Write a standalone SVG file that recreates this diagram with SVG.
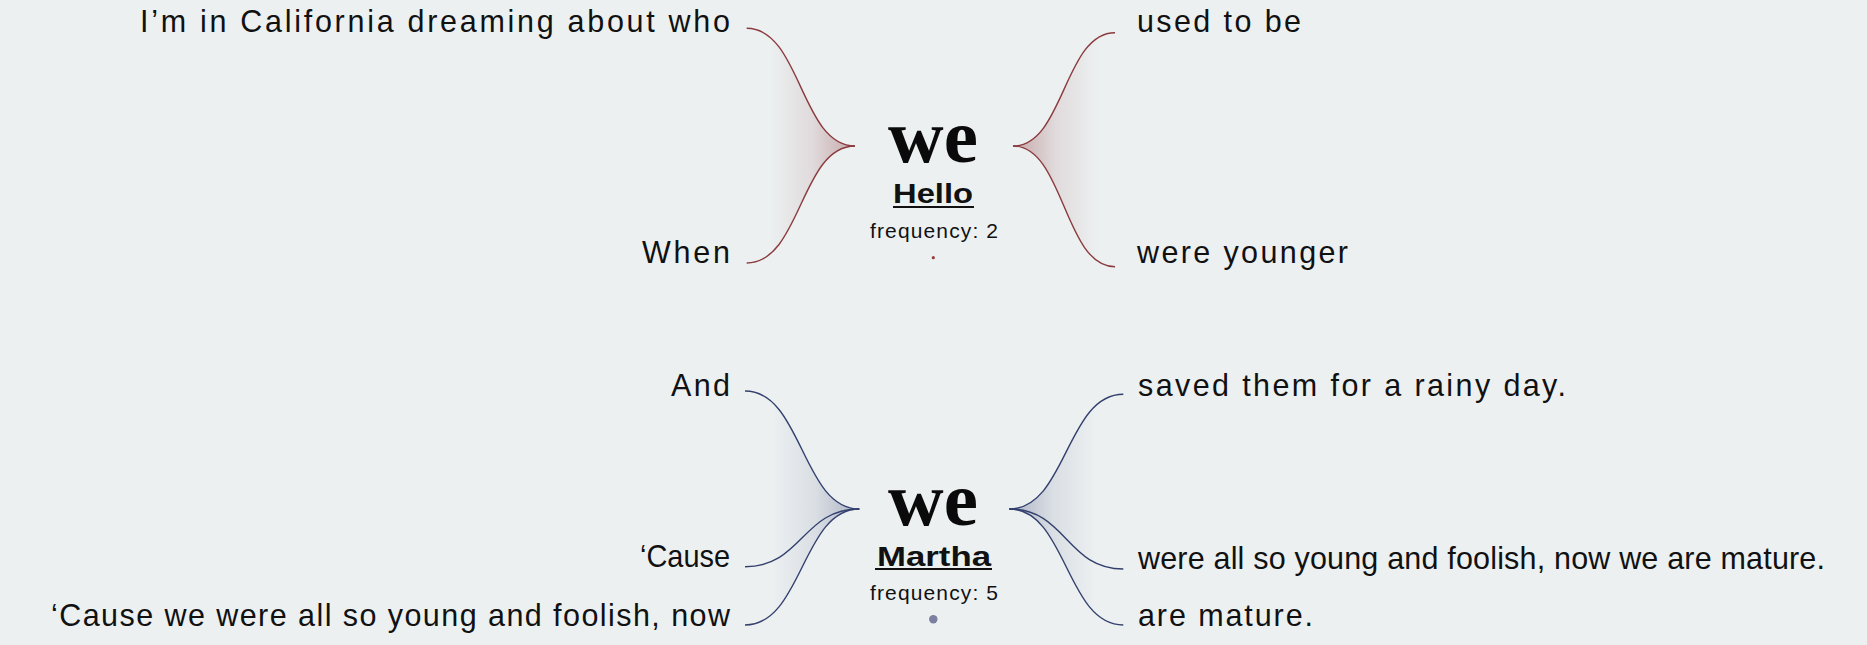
<svg xmlns="http://www.w3.org/2000/svg" width="1867" height="645" viewBox="0 0 1867 645">
<defs>
<style>
.bg{fill:#ecf0f1}
.t{font-family:"Liberation Sans",Arial,sans-serif;font-size:30.5px;fill:#111}
.we{font-family:"Liberation Serif","Times New Roman",serif;font-weight:bold;font-size:77px;fill:#0a0a0a;text-anchor:middle}
.name{font-family:"Liberation Sans",Arial,sans-serif;font-weight:bold;font-size:28px;fill:#111}
.freq{font-family:"Liberation Sans",Arial,sans-serif;font-size:21px;fill:#111}
.ul{stroke:#111;stroke-width:2}
.red{fill:none;stroke:#8b3a3e;stroke-width:1.4}
.blue{fill:none;stroke:#34406e;stroke-width:1.4}
</style>
<linearGradient id="gRL" gradientUnits="userSpaceOnUse" x1="855" y1="0" x2="770" y2="0"><stop offset="0" stop-color="#8b3a3e" stop-opacity="0.4"/><stop offset="0.5" stop-color="#8b3a3e" stop-opacity="0.12"/><stop offset="1" stop-color="#8b3a3e" stop-opacity="0"/></linearGradient>
<linearGradient id="gRR" gradientUnits="userSpaceOnUse" x1="1013" y1="0" x2="1098" y2="0"><stop offset="0" stop-color="#8b3a3e" stop-opacity="0.4"/><stop offset="0.5" stop-color="#8b3a3e" stop-opacity="0.12"/><stop offset="1" stop-color="#8b3a3e" stop-opacity="0"/></linearGradient>
<linearGradient id="gBL" gradientUnits="userSpaceOnUse" x1="859" y1="0" x2="772" y2="0"><stop offset="0" stop-color="#34406e" stop-opacity="0.35"/><stop offset="0.5" stop-color="#34406e" stop-opacity="0.1"/><stop offset="1" stop-color="#34406e" stop-opacity="0"/></linearGradient>
<linearGradient id="gBR" gradientUnits="userSpaceOnUse" x1="1009" y1="0" x2="1096" y2="0"><stop offset="0" stop-color="#34406e" stop-opacity="0.35"/><stop offset="0.5" stop-color="#34406e" stop-opacity="0.1"/><stop offset="1" stop-color="#34406e" stop-opacity="0"/></linearGradient>
</defs>
<rect class="bg" x="0" y="0" width="1867" height="645"/>

<g id="connectors">
<path fill="url(#gRL)" d="M746.7 28.3C800.8 28.3 800.8 146 855 146C800.8 146 800.8 263 746.7 263Z"/>
<path fill="url(#gRR)" d="M1115 32.7C1064 32.7 1064 146 1013 146C1064 146 1064 266.7 1115 266.7Z"/>
<path fill="url(#gBL)" d="M745 391C802.2 391 802.2 509 859.3 509C802.2 509 802.2 625 745 625Z"/>
<path fill="url(#gBR)" d="M1123.3 394.3C1066.3 394.3 1066.3 509 1009.3 509C1066.3 509 1066.3 625 1123.3 625Z"/>
<path class="red" d="M746.7 28.3C800.8 28.3 800.8 146 855 146"/>
<path class="red" d="M746.7 263C800.8 263 800.8 146 855 146"/>
<path class="red" d="M1115 32.7C1064 32.7 1064 146 1013 146"/>
<path class="red" d="M1115 266.7C1064 266.7 1064 146 1013 146"/>
<path class="blue" d="M745 391C802.2 391 802.2 509 859.3 509"/>
<path class="blue" d="M745 566.7C802.2 566.7 802.2 509 859.3 509"/>
<path class="blue" d="M745 625C802.2 625 802.2 509 859.3 509"/>
<path class="blue" d="M1123.3 394.3C1066.3 394.3 1066.3 509 1009.3 509"/>
<path class="blue" d="M1123.3 569C1066.3 569 1066.3 509 1009.3 509"/>
<path class="blue" d="M1123.3 625C1066.3 625 1066.3 509 1009.3 509"/>
</g>

<g id="hello">
<text class="we" x="933" y="161.7">we</text>
<text class="name" x="893" y="203.3" textLength="80" lengthAdjust="spacingAndGlyphs">Hello</text>
<line class="ul" x1="893" y1="207" x2="974" y2="207"/>
<text class="freq" x="870" y="238.3" textLength="128" lengthAdjust="spacing">frequency: 2</text>
<circle cx="933.3" cy="257.7" r="1.6" fill="#9a3b40"/>
</g>

<g id="martha">
<text class="we" x="933" y="525">we</text>
<text class="name" x="877" y="565.7" textLength="114" lengthAdjust="spacingAndGlyphs">Martha</text>
<line class="ul" x1="875" y1="569" x2="992" y2="569"/>
<text class="freq" x="870" y="600" textLength="128" lengthAdjust="spacing">frequency: 5</text>
<circle cx="933.3" cy="619.3" r="4.2" fill="#7b7fa0"/>
</g>

<g id="hello-left">
<text class="t" x="140" y="32.3" textLength="590" lengthAdjust="spacing">I’m in California dreaming about who</text>
<text class="t" x="642" y="263.3" textLength="88" lengthAdjust="spacing">When</text>
</g>
<g id="hello-right">
<text class="t" x="1137" y="32.3" textLength="164" lengthAdjust="spacing">used to be</text>
<text class="t" x="1137" y="263.3" textLength="211" lengthAdjust="spacing">were younger</text>
</g>
<g id="martha-left">
<text class="t" x="671" y="396" textLength="59" lengthAdjust="spacing">And</text>
<text class="t" x="640" y="567.3" textLength="90" lengthAdjust="spacingAndGlyphs">‘Cause</text>
<text class="t" x="51" y="625.7" textLength="679" lengthAdjust="spacing">‘Cause we were all so young and foolish, now</text>
</g>
<g id="martha-right">
<text class="t" x="1138" y="395.7" textLength="428" lengthAdjust="spacing">saved them for a rainy day.</text>
<text class="t" x="1138" y="569" textLength="687" lengthAdjust="spacing">were all so young and foolish, now we are mature.</text>
<text class="t" x="1138" y="625.7" textLength="175" lengthAdjust="spacing">are mature.</text>
</g>
</svg>
